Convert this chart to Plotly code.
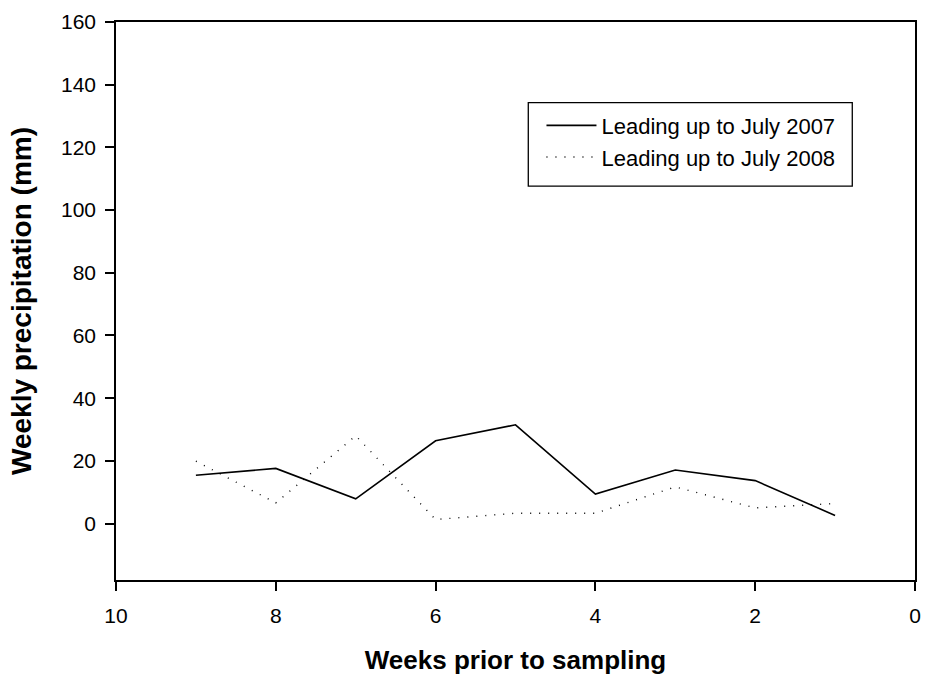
import plotly.graph_objects as go

# Weeks before sampling (x axis runs from 10 down to 0)
weeks = [9, 8, 7, 6, 5, 4, 3, 2, 1]
precip_2007 = [15.4, 17.6, 7.9, 26.4, 31.5, 9.4, 17.1, 13.7, 2.6]
precip_2008 = [19.9, 6.6, 28.0, 1.3, 3.3, 3.3, 11.7, 5.0, 6.4]

x_ticks = [10, 8, 6, 4, 2, 0]
y_ticks = [0, 20, 40, 60, 80, 100, 120, 140, 160]

FONT = "Liberation Sans, Arial, sans-serif"

fig = go.Figure()
fig.add_trace(go.Scatter(
    x=weeks, y=precip_2007, mode="lines", name="Leading up to July 2007",
    line=dict(color="black", width=1.6),
))
fig.add_trace(go.Scatter(
    x=weeks, y=precip_2008, mode="lines", name="Leading up to July 2008",
    line=dict(color="black", width=1.4, dash="1px,8px"),
))

axis_common = dict(
    showline=True, linecolor="black", linewidth=1.5, mirror=True,
    showgrid=False, zeroline=False,
    ticks="outside", ticklen=9, tickwidth=1.5, tickcolor="black",
    tickfont=dict(family=FONT, size=21, color="black"),
    automargin=False,
)

fig.update_layout(
    width=925, height=675,
    margin=dict(l=116, r=10, t=22, b=95),
    paper_bgcolor="white", plot_bgcolor="white",
    font=dict(family=FONT, color="black"),
    xaxis=dict(
        range=[10, 0], tickvals=x_ticks, ticktext=[str(v) for v in x_ticks],
        ticklabelstandoff=7,
        title=dict(text="<b>Weeks prior to sampling</b>",
                   font=dict(family=FONT, size=26), standoff=26),
        **axis_common,
    ),
    yaxis=dict(
        range=[-18, 160], tickvals=y_ticks, ticktext=[str(v) for v in y_ticks],
        ticklabelstandoff=5,
        title=dict(text="<b>Weekly precipitation (mm)</b>",
                   font=dict(family=FONT, size=28), standoff=21),
        **axis_common,
    ),
    legend=dict(
        x=0.5325, y=0.852, xanchor="left", yanchor="top",
        borderwidth=0, bgcolor="rgba(0,0,0,0)",
        font=dict(family=FONT, size=22), itemwidth=50,
        tracegroupgap=0,
    ),
    showlegend=True,
)

# Frame around the legend
fig.add_shape(
    type="rect", xref="paper", yref="paper",
    x0=0.516, x1=0.9215, y0=0.706, y1=0.8555,
    line=dict(color="black", width=1.3), fillcolor="rgba(0,0,0,0)",
    layer="above",
)

fig.write_html("out.html")
